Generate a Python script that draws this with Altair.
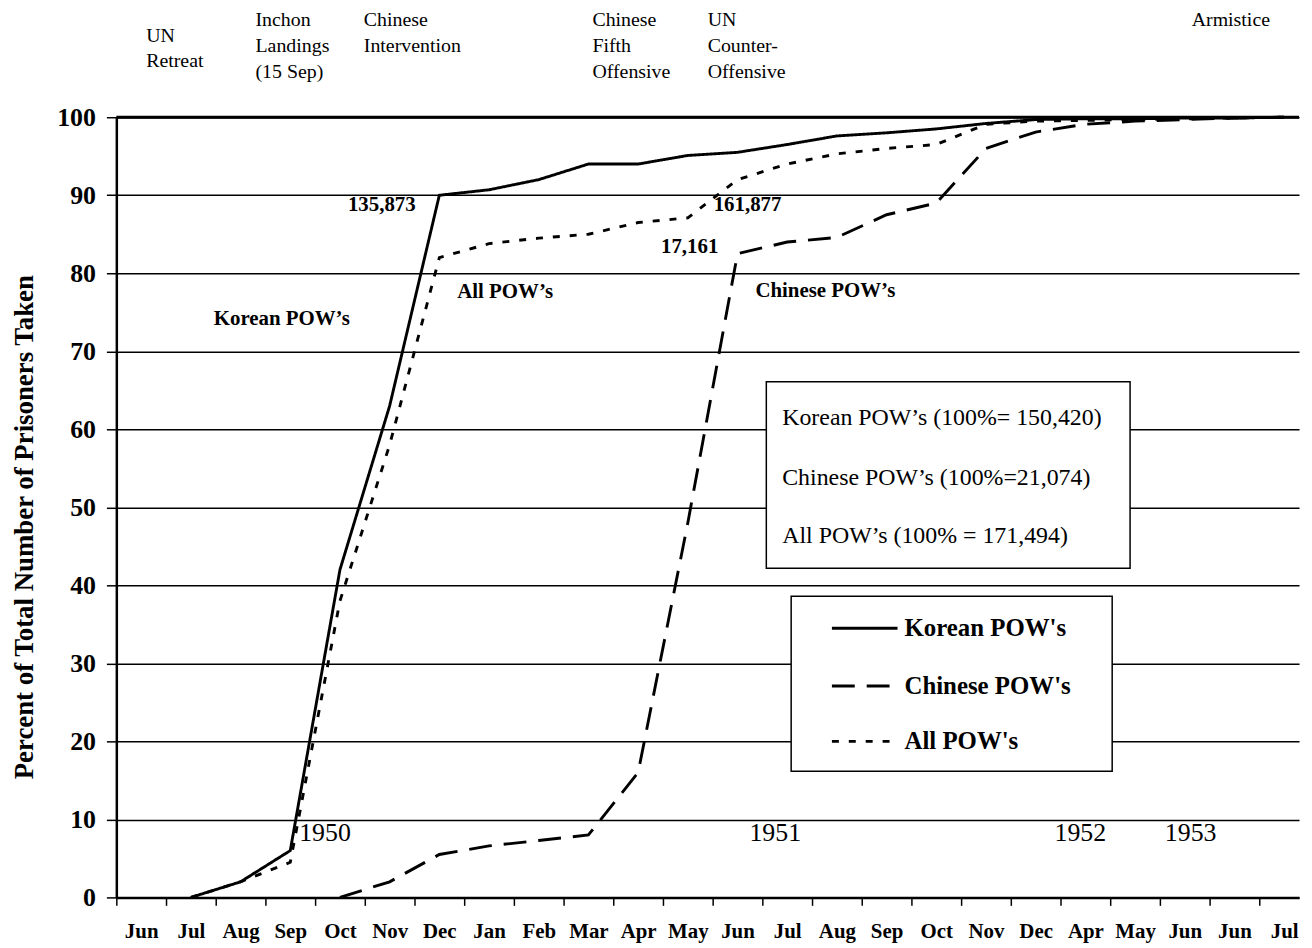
import altair as alt
import pandas as pd

# ---------------- data ----------------
months = ["Jun", "Jul", "Aug", "Sep", "Oct", "Nov", "Dec", "Jan", "Feb", "Mar", "Apr", "May",
          "Jun", "Jul", "Aug", "Sep", "Oct", "Nov", "Dec", "Apr", "May", "Jun", "Jun", "Jul"]
korean = [None, 0, 2, 6, 42, 63, 90, 90.7, 92, 94, 94, 95.1,
          95.5, 96.5, 97.6, 98, 98.5, 99.2, 99.7, 99.8, 99.8, 99.9, 99.9, 100]
chinese = [None, None, None, None, 0, 2, 5.5, 6.6, 7.3, 8, 16, 48,
           82.5, 84, 84.6, 87.5, 89, 96, 98.1, 99.1, 99.5, 99.7, 99.9, 100]
all_pows = [None, 0, 2, 4.5, 38, 58, 82, 83.8, 84.5, 85, 86.5, 87.1,
            92, 94, 95.3, 96, 96.5, 99.1, 99.5, 99.6, 99.7, 99.8, 99.9, 100]
series_names = ["Korean POW's", "Chinese POW's", "All POW's"]

event_text = [["UN", "Retreat"], ["Inchon", "Landings", "(15 Sep)"], ["Chinese", "Intervention"],
              ["Chinese", "Fifth", "Offensive"], ["UN", "Counter-", "Offensive"], ["Armistice"]]
note_text = ["135,873", "Korean POW’s", "All POW’s", "161,877", "17,161", "Chinese POW’s"]
year_text = ["1950", "1951", "1952", "1953"]
totals_text = ["Korean POW’s (100%= 150,420)", "Chinese POW’s (100%=21,074)", "All POW’s (100% = 171,494)"]

# ---------------- layout ----------------
FONT = "Liberation Serif"
CAT_W = 50.0
W = 1190
H = 785
XMAX = W / CAT_W


def u(px):
    """page x pixel -> category units (for annotation placement)"""
    return (px - 117) / CAT_W


rows = []
for name, vals in zip(series_names, [korean, chinese, all_pows]):
    for i, v in enumerate(vals):
        if v is not None:
            rows.append({"series": name, "pos": i + 0.5, "month": months[i], "pct": v})
df = pd.DataFrame(rows)

x_scale = alt.Scale(domain=[0, XMAX], nice=False, zero=False)
y_scale = alt.Scale(domain=[0, 100], nice=False)
dash_scale = alt.Scale(domain=series_names, range=[[1, 0], [23, 12], [7, 10]])

label_expr = "[" + ",".join("'" + m + "'" for m in months) + "][datum.value]"

x_axis = alt.Axis(values=list(range(24)), labelExpr=label_expr, labelOffset=CAT_W / 2, labelAlign="center",
                  labelFlush=False, labelOverlap=False, labelBound=False,
                  labelFont=FONT, labelFontSize=21, labelFontWeight="bold", labelColor="black",
                  labelPadding=15, tickSize=8, tickColor="black", tickWidth=1.5,
                  domainColor="black", domainWidth=2.5, grid=False, title=None)
y_axis = alt.Axis(values=list(range(0, 101, 10)), grid=True, gridColor="black", gridWidth=1.5,
                  gridOpacity=1, domainColor="black", domainWidth=2.5, tickColor="black",
                  tickWidth=1.5, tickSize=10, labelFont=FONT, labelFontSize=26,
                  labelFontWeight="bold", labelColor="black", labelPadding=11,
                  title="Percent of Total Number of Prisoners Taken", titleFont=FONT,
                  titleFontSize=27, titleFontWeight="bold", titleColor="black", titlePadding=18,
                  titleY=412)

lines = alt.Chart(df).mark_line(color="black", strokeWidth=2.9).encode(
    x=alt.X("pos:Q", scale=x_scale, axis=x_axis),
    y=alt.Y("pct:Q", scale=y_scale, axis=y_axis),
    strokeDash=alt.StrokeDash("series:N", scale=dash_scale, legend=None),
    detail="series:N",
    order="pos:Q",
)

top_rule = alt.Chart(pd.DataFrame({"v": [100]})).mark_rule(color="black", strokeWidth=3).encode(
    y=alt.Y("v:Q", scale=y_scale))

events = pd.DataFrame({"t": event_text,
                       "x": [u(147), u(257), u(366), u(596), u(712), u(1199)],
                       "y": [109.7, 111.7, 111.7, 111.7, 111.7, 111.7]})
event_layer = alt.Chart(events).mark_text(align="left", baseline="alphabetic", font=FONT,
                                          fontSize=20, lineHeight=26, color="black").encode(
    x=alt.X("x:Q", scale=x_scale), y=alt.Y("y:Q", scale=y_scale), text="t")

notes = pd.DataFrame({"t": note_text,
                      "x": [u(350), u(215), u(460), u(718), u(665), u(760)],
                      "y": [88.7, 74.1, 77.6, 88.8, 83.3, 77.7]})
note_layer = alt.Chart(notes).mark_text(align="left", baseline="middle", font=FONT, fontSize=21,
                                        fontWeight="bold", color="black").encode(
    x=alt.X("x:Q", scale=x_scale), y=alt.Y("y:Q", scale=y_scale), text="t")

years = pd.DataFrame({"t": year_text, "x": [u(301), u(754), u(1061), u(1172)], "y": [8.3] * 4})
year_layer = alt.Chart(years).mark_text(align="left", baseline="middle", font=FONT, fontSize=26,
                                        color="black").encode(
    x=alt.X("x:Q", scale=x_scale), y=alt.Y("y:Q", scale=y_scale), text="t")

# totals box
box1 = pd.DataFrame({"x": [u(771)], "x2": [u(1137)], "y": [42.2], "y2": [66.1]})
box1_layer = alt.Chart(box1).mark_rect(fill="white", stroke="black", strokeWidth=1.5).encode(
    x=alt.X("x:Q", scale=x_scale), x2="x2", y=alt.Y("y:Q", scale=y_scale), y2="y2")
totals = pd.DataFrame({"t": totals_text, "x": [u(787)] * 3, "y": [61.4, 53.8, 46.3]})
totals_layer = alt.Chart(totals).mark_text(align="left", baseline="middle", font=FONT, fontSize=24,
                                           color="black").encode(
    x=alt.X("x:Q", scale=x_scale), y=alt.Y("y:Q", scale=y_scale), text="t")

# legend box
box2 = pd.DataFrame({"x": [u(796)], "x2": [u(1119)], "y": [16.18], "y2": [38.6]})
box2_layer = alt.Chart(box2).mark_rect(fill="white", stroke="black", strokeWidth=1.5).encode(
    x=alt.X("x:Q", scale=x_scale), x2="x2", y=alt.Y("y:Q", scale=y_scale), y2="y2")
leg = pd.DataFrame({"series": series_names, "x": [u(837)] * 3, "x2": [u(903)] * 3,
                    "y": [34.5, 27.1, 20.0], "tx": [u(910)] * 3})
leg_lines = alt.Chart(leg).mark_rule(color="black", strokeWidth=3).encode(
    x=alt.X("x:Q", scale=x_scale), x2="x2", y=alt.Y("y:Q", scale=y_scale),
    strokeDash=alt.StrokeDash("series:N", scale=dash_scale, legend=None))
leg_text = alt.Chart(leg).mark_text(align="left", baseline="middle", font=FONT, fontSize=25,
                                    fontWeight="bold", color="black").encode(
    x=alt.X("tx:Q", scale=x_scale), y=alt.Y("y:Q", scale=y_scale), text="series:N")

chart = alt.layer(
    lines, top_rule, event_layer, note_layer, year_layer,
    box1_layer, totals_layer, box2_layer, leg_lines, leg_text
).properties(
    width=W, height=H,
    autosize=alt.AutoSizeParams(type="none"),
    padding={"left": 109, "top": 107, "right": 5, "bottom": 46},
    background="white",
).configure_view(stroke=None)

chart.save("out.html", embed_options={"renderer": "svg", "actions": False})
